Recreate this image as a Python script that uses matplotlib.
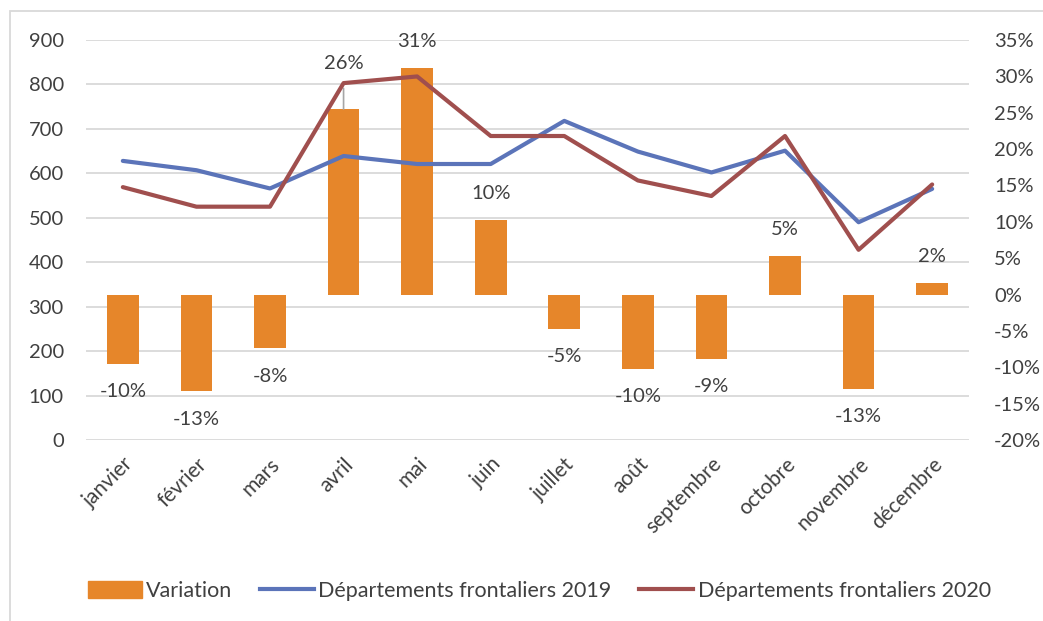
import numpy as np
import matplotlib.pyplot as plt
from matplotlib.patches import Rectangle, Patch
from matplotlib.lines import Line2D
from matplotlib.ticker import FuncFormatter

plt.rcParams["font.family"] = ["Lato", "DejaVu Sans"]

# Data
months = ["janvier", "février", "mars", "avril", "mai", "juin", "juillet",
          "août", "septembre", "octobre", "novembre", "décembre"]
frontaliers_2019 = [628, 607, 566, 639, 621, 621, 718, 649, 602, 651, 490, 565]
frontaliers_2020 = [569, 525, 525, 803, 818, 684, 684, 584, 549, 684, 428, 575]
variation = [-9.5, -13.3, -7.4, 25.5, 31.2, 10.2, -4.7, -10.2, -8.8, 5.3, -13.0, 1.6]
variation_labels = ["-10%", "-13%", "-8%", "26%", "31%", "10%", "-5%",
                    "-10%", "-9%", "5%", "-13%", "2%"]

c_bar = "#E6862A"
c_2019 = "#5B74B9"
c_2020 = "#A04F4E"
c_text = "#404040"
fs = 14.5

fig = plt.figure(figsize=(10.43, 6.21), dpi=100)
ax = fig.add_axes([0.0825, 0.2914, 0.8465, 0.6442])
ax2 = ax.twinx()

x = np.arange(len(months))

# Left axis
ax.set_ylim(0, 900)
ax.set_yticks(np.arange(0, 901, 100))
ax.set_xlim(-0.5, 11.5)
ax.grid(axis="y", color="#D9D9D9", linewidth=1.3)
ax.set_axisbelow(True)

# Right axis: variation bars
ax2.set_ylim(-20, 35)
ax2.set_yticks(np.arange(-20, 36, 5))
ax2.yaxis.set_major_formatter(FuncFormatter(lambda v, p: f"{int(v)}%"))
ax2.bar(x, variation, width=0.43, color=c_bar, zorder=1)

for i, (v, lab) in enumerate(zip(variation, variation_labels)):
    if i == 3:
        # label moved up with a leader line
        ax2.annotate(lab, xy=(i, v), xytext=(0, 33), textcoords="offset points",
                     ha="center", va="center", fontsize=fs, color=c_text,
                     arrowprops=dict(arrowstyle="-", color="#A6A6A6", lw=1.2,
                                     shrinkA=10, shrinkB=0))
    else:
        off = 19 if v >= 0 else -20
        ax2.annotate(lab, xy=(i, v), xytext=(0, off), textcoords="offset points",
                     ha="center", va="center", fontsize=fs, color=c_text)

# lines drawn on the twin axis (left-axis values rescaled) so they sit above bars
scale = lambda vals: [(-20 + v * 55 / 900) for v in vals]
ax2.plot(x, scale(frontaliers_2019), color=c_2019, linewidth=3, zorder=3,
         solid_capstyle="round")
ax2.plot(x, scale(frontaliers_2020), color=c_2020, linewidth=3, zorder=3,
         solid_capstyle="round")

for a in (ax, ax2):
    for s in a.spines.values():
        s.set_visible(False)
    a.tick_params(length=0, labelsize=fs, labelcolor=c_text)
ax.tick_params(axis="y", pad=16)
ax2.tick_params(axis="y", pad=18)

ax.set_xticks(x)
ax.set_xticklabels(months, rotation=45, ha="right", va="top",
                   rotation_mode="anchor", fontsize=15)
ax.tick_params(axis="x", pad=10)

# Legend
handles = [Patch(color=c_bar),
           Line2D([], [], color=c_2019, linewidth=3),
           Line2D([], [], color=c_2020, linewidth=3)]
fig.legend(handles, ["Variation", "Départements frontaliers 2019",
                     "Départements frontaliers 2020"],
           loc="center", bbox_to_anchor=(0.517, 0.049), ncol=3, frameon=False,
           fontsize=15.5, labelcolor=c_text, handlelength=2.5, handleheight=0.85,
           handletextpad=0.2, columnspacing=1.3)

# chart border
fig.patches.append(Rectangle((10 / 1043, -0.2), 1.2, 1 - 11 / 621 + 0.2,
                             transform=fig.transFigure, fill=False,
                             edgecolor="#D9D9D9", linewidth=1.3))

fig.savefig("out.png", dpi=100)
